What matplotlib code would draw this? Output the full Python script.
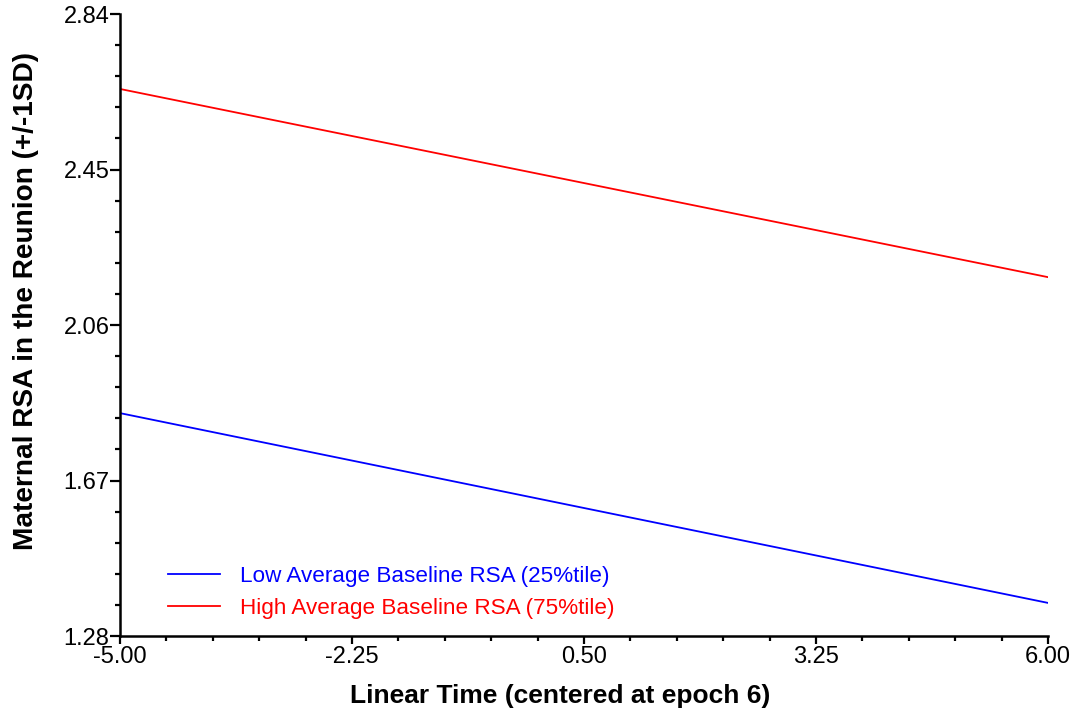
import matplotlib
matplotlib.use("Agg")
import matplotlib.pyplot as plt
from matplotlib.ticker import FixedLocator, AutoMinorLocator

plt.rcParams['font.family'] = ['Liberation Sans', 'DejaVu Sans']

time_x = [-5.0, 6.0]
low_rsa = [1.839, 1.363]
high_rsa = [2.652, 2.180]
series_labels = ["Low Average Baseline RSA (25%tile)", "High Average Baseline RSA (75%tile)"]
series_colors = ["#0000ff", "#ff0000"]
x_ticks = [-5.00, -2.25, 0.50, 3.25, 6.00]
y_ticks = [1.28, 1.67, 2.06, 2.45, 2.84]

W, H = 1077, 714
fig = plt.figure(figsize=(W/100, H/100), dpi=100)
ax = fig.add_axes([120/W, 1-636/H, (1048-120)/W, (636-14)/H])

for ys, lab, col in zip([low_rsa, high_rsa], series_labels, series_colors):
    ax.plot(time_x, ys, color=col, lw=1.3, label=lab)

ax.set_xlim(-5, 6)
ax.set_ylim(1.28, 2.84)
ax.xaxis.set_major_locator(FixedLocator(x_ticks))
ax.yaxis.set_major_locator(FixedLocator(y_ticks))
ax.xaxis.set_minor_locator(AutoMinorLocator(5))
ax.yaxis.set_minor_locator(AutoMinorLocator(5))
ax.set_xticklabels([f"{v:.2f}" for v in x_ticks])
ax.set_yticklabels([f"{v:.2f}" for v in y_ticks])
ax.tick_params(axis='y', which='major', direction='out', length=7, width=1.6, labelsize=17, pad=0.5)
ax.tick_params(axis='x', which='major', direction='out', length=6, width=1.6, labelsize=17, pad=1.5)
ax.tick_params(axis='both', which='minor', direction='out', length=3.5, width=1.6)
for s in ['top', 'right']:
    ax.spines[s].set_visible(False)
for s in ['left', 'bottom']:
    ax.spines[s].set_linewidth(1.8)

ax.set_xlabel("Linear Time (centered at epoch 6)", fontsize=19, fontweight='bold')
ax.set_ylabel("Maternal RSA in the Reunion (+/-1SD)", fontsize=20.2, fontweight='bold')
ax.xaxis.set_label_coords(0.4741, -0.077)
ax.yaxis.set_label_coords(-0.0873, 0.5378)

leg = ax.legend(loc='lower left', bbox_to_anchor=(0.0294, -0.005), frameon=False, fontsize=16.2,
                handlelength=2.35, handletextpad=0.85, labelspacing=0.5, borderpad=0.4)
for t, c in zip(leg.get_texts(), series_colors):
    t.set_color(c)

fig.savefig("out.png", dpi=100)
